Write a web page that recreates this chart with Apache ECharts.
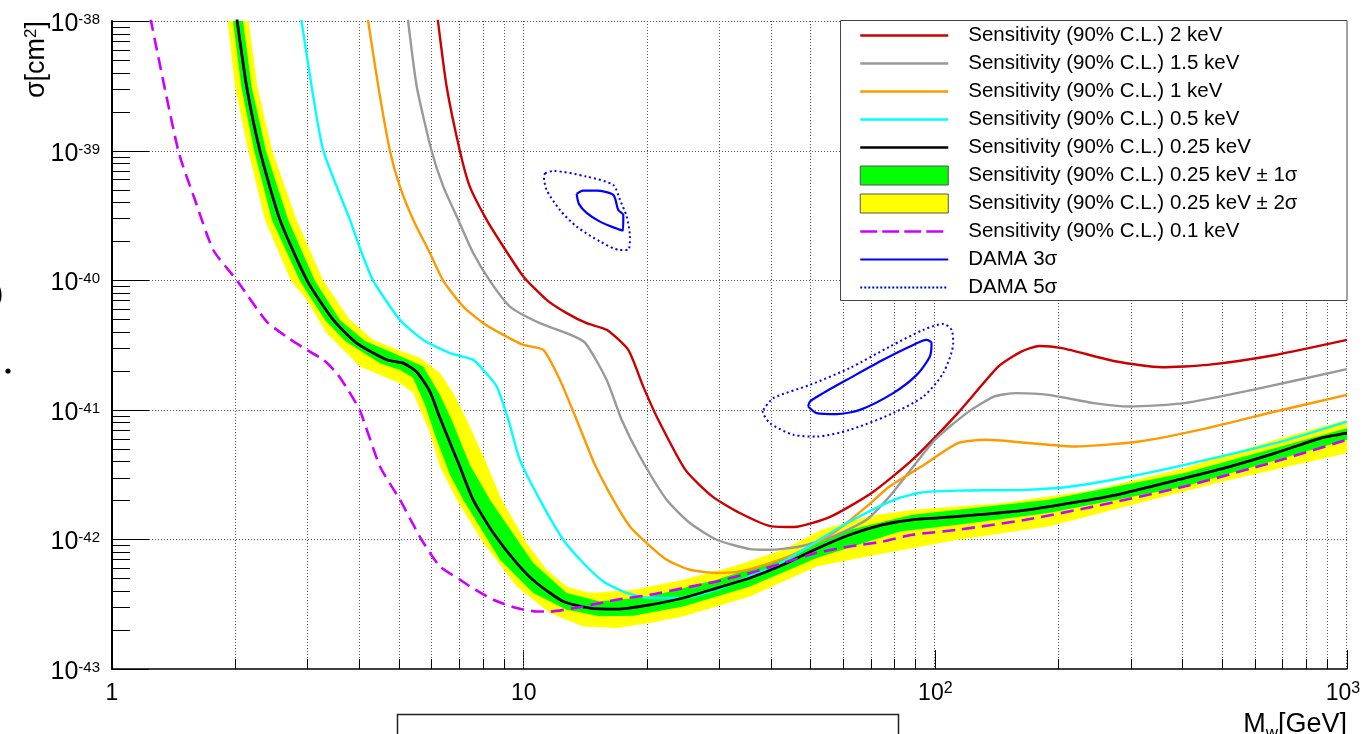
<!DOCTYPE html>
<html><head><meta charset="utf-8">
<script src="https://cdn.jsdelivr.net/npm/echarts@6/dist/echarts.min.js"></script>
<style>html,body{margin:0;padding:0;background:#fff;}#c{width:1368px;height:734px;}</style>
</head><body><div id="c"></div>
<script>
const FONT = '"Liberation Sans", Arial, Helvetica, sans-serif';

// ---- axis ticks ----
const xMajorTicks = [1, 10, 100, 1000];
const xMinorTicks = [2,3,4,5,6,7,8,9,20,30,40,50,60,70,80,90,200,300,400,500,600,700,800,900];
const yMajorTicks = [1e-43, 1e-42, 1e-41, 1e-40, 1e-39, 1e-38];
const yTickExponents = [-43, -42, -41, -40, -39, -38];
const yMinorTicks = [];
[-43,-42,-41,-40,-39].forEach(e => { for (let m = 2; m <= 9; m++) yMinorTicks.push(m * Math.pow(10, e)); });

// ---- series names ----
const N2 = 'Sensitivity (90% C.L.) 2 keV';
const N15 = 'Sensitivity (90% C.L.) 1.5 keV';
const N1 = 'Sensitivity (90% C.L.) 1 keV';
const N05 = 'Sensitivity (90% C.L.) 0.5 keV';
const N025 = 'Sensitivity (90% C.L.) 0.25 keV';
const N1S = 'Sensitivity (90% C.L.) 0.25 keV \u00b1 1\u03c3';
const N2S = 'Sensitivity (90% C.L.) 0.25 keV \u00b1 2\u03c3';
const N01 = 'Sensitivity (90% C.L.) 0.1 keV';
const ND3 = 'DAMA 3\u03c3';
const ND5 = 'DAMA 5\u03c3';

// ---- data: [mass GeV, sigma cm^2] ----
const sens2keV = [[6.18,1.05e-38],[6.50,3.11e-39],[7.00,9.94e-40],[7.40,5.27e-40],[8.13,2.92e-40],[8.92,1.82e-40],[9.98,1.07e-40],[11.37,7.05e-41],[12.72,5.57e-41],[14.22,4.66e-41],[15.91,4.14e-41],[17.95,2.90e-41],[19.52,1.51e-41],[21.23,8.37e-42],[24.71,3.44e-42],[28.76,2.14e-42],[33.5,1.60e-42],[40.0,1.26e-42],[45.4,1.245e-42],[55.7,1.50e-42],[70.0,2.28e-42],[87.9,4.11e-42],[113.4,9.43e-42],[142.4,2.16e-41],[161.7,2.81e-41],[179,3.11e-41],[203,2.99e-41],[275.5,2.36e-41],[355,2.13e-41],[458,2.22e-41],[670,2.65e-41],[1000,3.46e-41]];
const sens1p5keV = [[5.23,1.05e-38],[5.50,3.11e-39],[5.976,9.94e-40],[6.38,5.27e-40],[6.936,2.92e-40],[7.54,1.62e-40],[8.28,9.88e-41],[9.26,6.26e-41],[10.95,4.66e-41],[12.72,3.90e-41],[14.09,3.30e-41],[15.91,1.70e-41],[17.30,8.37e-42],[19.16,4.36e-42],[22.25,2.02e-42],[25.34,1.337e-42],[29.44,9.94e-43],[35.45,8.42e-43],[39.65,8.32e-43],[46.9,8.82e-43],[56.5,1.054e-42],[68.1,1.417e-42],[77.4,2.14e-42],[99.8,5.87e-42],[119.2,9.43e-42],[138.8,1.265e-41],[157.6,1.345e-41],[188.3,1.304e-41],[242.8,1.126e-41],[297,1.06e-41],[403,1.126e-41],[590,1.426e-41],[1000,2.06e-41]];
const sens1keV = [[4.18,1.05e-38],[4.436,3.11e-39],[4.734,9.94e-40],[5.006,5.27e-40],[5.393,2.92e-40],[5.92,1.62e-40],[6.38,9.88e-41],[7.13,6.26e-41],[7.98,4.66e-41],[9.09,3.67e-41],[9.98,3.17e-41],[11.16,2.90e-41],[12.25,1.70e-41],[13.45,8.37e-42],[14.90,3.76e-42],[16.51,2.02e-42],[18.12,1.258e-42],[19.90,9.37e-43],[22.25,6.97e-43],[25.34,5.83e-43],[29.44,5.50e-43],[33.5,5.66e-43],[39.65,6.57e-43],[46.9,8.07e-43],[56.5,1.119e-42],[68.1,1.795e-42],[77.4,2.56e-42],[92.5,3.65e-42],[113.4,5.53e-42],[132,5.87e-42],[188.3,5.37e-42],[219.3,5.21e-42],[312.8,5.69e-42],[457.9,7.22e-42],[670,9.70e-42],[1000,1.304e-41]];
const sens0p5keV = [[2.88,1.05e-38],[3.055,3.11e-39],[3.262,9.94e-40],[3.785,2.92e-40],[4.042,1.62e-40],[4.312,9.88e-41],[5.006,4.94e-41],[5.703,3.46e-41],[6.622,2.74e-41],[7.54,2.43e-41],[7.98,2.03e-41],[8.60,1.512e-41],[9.18,8.37e-42],[9.79,4.11e-42],[10.95,2.02e-42],[12.48,9.94e-43],[13.96,6.57e-43],[15.61,4.74e-43],[17.79,3.86e-43],[20.27,3.53e-43],[24.42,3.53e-43],[29.44,4.09e-43],[35.45,5.18e-43],[42.7,6.76e-43],[51.5,9.64e-43],[62.0,1.375e-42],[79.4,2.02e-42],[92.5,2.30e-42],[113.4,2.38e-42],[165.8,2.41e-42],[213.5,2.56e-42],[297,3.06e-42],[403,3.76e-42],[670,5.53e-42],[1000,8.12e-42]];
const sens0p25keV = [[2.01,1.05e-38],[2.124,3.11e-39],[2.288,9.94e-40],[2.559,2.92e-40],[2.981,9.88e-41],[3.448,4.94e-41],[3.930,3.27e-41],[4.65,2.43e-41],[5.10,2.29e-41],[5.50,1.96e-41],[5.92,1.38e-41],[6.26,8.67e-42],[6.73,4.91e-42],[7.00,3.63e-42],[7.54,2.02e-42],[8.44,1.12e-42],[9.62,6.57e-43],[10.75,4.61e-43],[12.48,3.32e-43],[14.49,2.95e-43],[16.82,2.90e-43],[20.27,3.13e-43],[24.42,3.53e-43],[29.44,4.21e-43],[35.45,5.04e-43],[42.7,6.37e-43],[51.5,8.47e-43],[62.0,1.086e-42],[74.7,1.30e-42],[87.7,1.417e-42],[113.4,1.503e-42],[155.6,1.643e-42],[200.6,1.85e-42],[275.5,2.21e-42],[403,2.97e-42],[519.5,3.65e-42],[670,4.63e-42],[864,6.05e-42],[1000,6.61e-42]];
const band1sUpper = [[2.077,1.05e-38],[2.184,3.11e-39],[2.366,9.94e-40],[2.68,2.92e-40],[3.112,9.88e-41],[3.58,4.94e-41],[4.117,3.40e-41],[4.824,2.74e-41],[5.703,2.16e-41],[6.26,1.304e-41],[6.684,8.37e-42],[7.40,3.76e-42],[8.28,2.02e-42],[10.55,6.57e-43],[12.72,3.86e-43],[15.32,3.32e-43],[20.27,3.63e-43],[29.44,4.89e-43],[42.7,7.18e-43],[62.0,1.187e-42],[87.9,1.549e-42],[188.3,2.02e-42],[403,3.25e-42],[1000,7.22e-42]];
const band1sLower = [[1.964,1.05e-38],[2.061,3.11e-39],[2.216,9.94e-40],[2.447,2.92e-40],[2.862,9.88e-41],[3.292,4.94e-41],[3.681,3.40e-41],[4.477,2.29e-41],[5.006,2.03e-41],[5.384,1.764e-41],[5.758,1.093e-41],[6.088,6.41e-42],[6.622,3.15e-42],[7.13,2.02e-42],[8.76,6.97e-43],[10.55,3.86e-43],[12.72,2.87e-43],[15.32,2.55e-43],[18.46,2.58e-43],[24.42,3.04e-43],[35.45,4.34e-43],[51.5,7.18e-43],[82.0,1.151e-42],[113.4,1.30e-42],[188.3,1.596e-42],[403,2.56e-42],[1000,5.87e-42]];
const band2sUpper = [[2.143,1.05e-38],[2.254,3.11e-39],[2.452,9.94e-40],[2.809,2.92e-40],[3.262,9.88e-41],[3.785,4.94e-41],[4.312,3.46e-41],[5.006,2.85e-41],[5.60,2.52e-41],[6.26,1.92e-41],[6.745,1.345e-41],[7.27,8.37e-42],[8.05,4.11e-42],[8.84,2.02e-42],[10.17,9.37e-43],[11.37,5.83e-43],[12.72,4.34e-43],[14.49,3.86e-43],[18.46,4.09e-43],[24.42,4.89e-43],[32.29,6.18e-43],[42.7,8.32e-43],[52.9,1.187e-42],[68.2,1.503e-42],[87.9,1.693e-42],[146,1.907e-42],[242.8,2.41e-42],[403,3.55e-42],[670,5.87e-42],[1000,8.37e-42]];
const band2sLower = [[1.906,1.05e-38],[1.990,3.11e-39],[2.143,9.94e-40],[2.353,2.92e-40],[2.722,9.88e-41],[2.971,7.05e-41],[3.322,3.90e-41],[4.004,2.16e-41],[5.006,1.606e-41],[5.393,1.345e-41],[5.92,6.61e-42],[6.26,3.65e-42],[6.875,2.02e-42],[7.98,9.37e-43],[9.62,4.34e-43],[11.58,2.70e-43],[13.96,2.13e-43],[16.82,2.07e-43],[20.27,2.26e-43],[24.42,2.55e-43],[29.44,3.04e-43],[35.45,3.63e-43],[42.7,4.74e-43],[51.5,6.18e-43],[68.2,7.38e-43],[113.4,9.94e-43],[188.3,1.258e-42],[312.8,1.907e-42],[519.5,2.88e-42],[1000,4.63e-42]];
const sens0p1keV = [[1.24,1.05e-38],[1.449,9.94e-40],[1.591,4.16e-40],[1.762,1.71e-40],[2.015,9.88e-41],[2.375,4.80e-41],[2.677,3.59e-41],[2.971,2.90e-41],[3.262,2.43e-41],[3.514,1.92e-41],[3.743,1.426e-41],[4.004,9.82e-42],[4.477,3.65e-42],[5.006,2.02e-42],[5.65,9.94e-43],[6.26,6.18e-43],[7.00,4.89e-43],[7.40,4.34e-43],[8.44,3.42e-43],[9.62,2.95e-43],[10.75,2.78e-43],[11.58,2.78e-43],[13.96,3.04e-43],[16.82,3.42e-43],[20.27,3.74e-43],[24.42,4.21e-43],[29.44,4.74e-43],[35.45,5.50e-43],[42.7,6.57e-43],[51.5,7.89e-43],[62.0,8.82e-43],[74.7,9.64e-43],[87.9,1.086e-42],[113.4,1.187e-42],[165.8,1.417e-42],[242.8,1.795e-42],[403,2.56e-42],[670,3.99e-42],[1000,5.87e-42]];
const dama3Low = [[13.45,4.63e-40],[13.93,4.91e-40],[15.04,4.91e-40],[16.51,4.55e-40],[16.97,3.48e-40],[17.46,3.19e-40],[17.43,2.42e-40],[16.39,2.58e-40],[15.32,2.83e-40],[14.22,3.31e-40],[13.62,3.88e-40],[13.45,4.63e-40]];
const dama5Low = [[11.27,6.69e-40],[11.80,6.97e-40],[14.22,6.30e-40],[16.51,5.43e-40],[17.14,4.16e-40],[17.79,3.10e-40],[18.12,2.17e-40],[17.95,1.71e-40],[17.14,1.71e-40],[15.32,1.99e-40],[13.45,2.59e-40],[12.25,3.48e-40],[11.37,4.97e-40],[11.20,6.30e-40],[11.27,6.69e-40]];
const dama3High = [[49.1,1.06e-41],[51.5,9.43e-42],[57.6,9.26e-42],[65.6,9.99e-42],[79.0,1.345e-41],[90.1,1.86e-41],[97.0,2.58e-41],[97.9,3.27e-41],[95.2,3.46e-41],[86.8,3.08e-41],[74.7,2.43e-41],[62.0,1.755e-41],[53.4,1.345e-41],[49.6,1.158e-41],[49.1,1.06e-41]];
const dama5High = [[38.2,9.99e-42],[40.4,1.23e-41],[49.6,1.558e-41],[62.0,2.10e-41],[77.6,3.08e-41],[93.5,4.14e-41],[104.5,4.60e-41],[109.5,4.14e-41],[110.5,3.27e-41],[104.5,1.92e-41],[93.5,1.265e-41],[79.0,9.43e-42],[62.0,7.01e-42],[51.5,6.22e-42],[45.2,6.41e-42],[39.65,7.89e-42],[38.1,9.70e-42],[38.2,9.99e-42]];

const chart = echarts.init(document.getElementById('c'), null, {renderer: 'canvas'});

function lineSeries(name, data, color, width, dash, smooth) {
  return {
    type: 'line', name, data, symbol: 'none', showSymbol: false, smooth: smooth,
    clip: true, z: 2, silent: true,
    lineStyle: {color, width, type: dash || 'solid', cap: 'butt'},
    itemStyle: {color}
  };
}
function bandSeries(name, upper, lower, color) {
  const mid = upper[Math.floor(upper.length / 2)];
  return {
    type: 'custom', name, coordinateSystem: 'cartesian2d', clip: true, z: 2, silent: true,
    itemStyle: {color},
    data: [[mid[0], mid[1]]],
    renderItem(params, api) {
      const pts = upper.map(p => api.coord(p)).concat(lower.slice().reverse().map(p => api.coord(p)));
      return {type: 'polygon', shape: {points: pts}, style: {fill: color, stroke: null, lineWidth: 0}};
    }
  };
}

const yLabelRich = {
  b: {fontSize: 25, lineHeight: 24, fontFamily: FONT, fill: '#000', verticalAlign: 'bottom'},
  s: {fontSize: 15, lineHeight: 11, fontFamily: FONT, fill: '#000', verticalAlign: 'top'}
};

const gridSeries = {
  type: 'custom', name: '__grid', coordinateSystem: 'cartesian2d', z: 1, silent: true, clip: false,
  data: [[10, 1e-40]],
  renderItem(params, api) {
    const cs = params.coordSys;
    const x0 = cs.x, y0 = cs.y, w = cs.width, h = cs.height;
    const ch = [];
    const dot = {stroke: '#555', lineWidth: 1, lineDash: [1, 2]};
    const solid = {stroke: '#000', lineWidth: 1};
    xMinorTicks.concat([10, 100, 1000]).forEach(v => {
      const px = Math.round(api.coord([v, 1e-43])[0]) - 0.5;
      ch.push({type: 'line', shape: {x1: px, y1: y0, x2: px, y2: y0 + h}, style: dot});
    });
    yMajorTicks.slice(1).forEach(v => {
      const py = Math.round(api.coord([1, v])[1]) + 0.5;
      ch.push({type: 'line', shape: {x1: x0 + 37, y1: py, x2: x0 + w, y2: py}, style: dot});
    });
    xMinorTicks.forEach(v => {
      const px = Math.round(api.coord([v, 1e-43])[0]) - 0.5;
      ch.push({type: 'line', shape: {x1: px, y1: y0 + h, x2: px, y2: y0 + h - 10}, style: solid});
    });
    yMinorTicks.forEach(v => {
      const py = Math.round(api.coord([1, v])[1]) + 0.5;
      ch.push({type: 'line', shape: {x1: x0, y1: py, x2: x0 + 18, y2: py}, style: solid});
    });
    yMajorTicks.forEach((v, i) => {
      const py = Math.round(api.coord([1, v])[1]) + 0.5;
      ch.push({type: 'line', shape: {x1: x0, y1: py, x2: x0 + 37, y2: py}, style: solid});
      ch.push({type: 'text', x: x0 - 12, y: py + 3,
        style: {text: '{b|10}{s|' + yTickExponents[i] + '}', rich: yLabelRich, align: 'right', verticalAlign: 'middle', fill: '#000', fontFamily: FONT}});
    });
    return {type: 'group', children: ch};
  }
};

const option = {
  animation: false,
  backgroundColor: '#ffffff',
  textStyle: {fontFamily: FONT},
  grid: {left: 112, right: 21, top: 21, bottom: 65, containLabel: false, outerBoundsMode: 'none'},
  xAxis: {
    type: 'log', logBase: 10, min: 1, max: 1000, splitNumber: 3,
    axisLine: {show: true, onZero: false, lineStyle: {color: '#000', width: 1.5}},
    axisTick: {show: true, inside: true, length: 19, lineStyle: {color: '#000', width: 1}},
    minorTick: {show: false}, splitLine: {show: false}, minorSplitLine: {show: false},
    axisLabel: {
      margin: 12, color: '#000',
      formatter: v => {
        const e = Math.round(Math.log10(v));
        if (e === 0) return '{b|1}';
        if (e === 1) return '{b|10}';
        if (e === 3) return '{b|10}{s|3}{p|}';
        return '{b|10}{s|' + e + '}';
      },
      rich: {
        b: {fontSize: 23, lineHeight: 24, fontFamily: FONT, color: '#000', verticalAlign: 'bottom'},
        s: {fontSize: 16, lineHeight: 11, fontFamily: FONT, color: '#000', verticalAlign: 'top'},
        p: {width: 8}
      }
    },
    name: '{m|M}{w|w}{g|[GeV]}', nameLocation: 'end', nameGap: 0, nameMoveOverlap: false,
    nameTextStyle: {
      align: 'right', verticalAlign: 'top', padding: [42, 0, 0, 0],
      rich: {
        m: {fontSize: 27, fontFamily: FONT, color: '#000', verticalAlign: 'bottom', lineHeight: 27},
        w: {fontSize: 17, fontFamily: FONT, color: '#000', verticalAlign: 'bottom', lineHeight: 17, padding: [0, 0, -4, 0]},
        g: {fontSize: 27, fontFamily: FONT, color: '#000', verticalAlign: 'bottom', lineHeight: 27}
      }
    }
  },
  yAxis: {
    type: 'log', logBase: 10, min: 1e-43, max: 1e-38, splitNumber: 5,
    axisLine: {show: true, onZero: false, lineStyle: {color: '#000', width: 2}},
    axisTick: {show: false},
    minorTick: {show: false}, splitLine: {show: false}, minorSplitLine: {show: false},
    axisLabel: {show: false},
    name: '{t|\u03c3[cm}{s|2}{t|]}', nameLocation: 'end', nameGap: 0, nameRotate: 90, nameMoveOverlap: false,
    nameTextStyle: {
      align: 'right', verticalAlign: 'bottom', padding: [0, 0, 62, 0],
      rich: {
        t: {fontSize: 27, fontFamily: FONT, color: '#000', verticalAlign: 'bottom', lineHeight: 27},
        s: {fontSize: 17, fontFamily: FONT, color: '#000', verticalAlign: 'top', lineHeight: 17}
      }
    }
  },
  legend: {
    orient: 'vertical', left: 840, top: 22, padding: [3, 10, 6, 19],
    itemWidth: 88, itemHeight: 19, itemGap: 7, selectedMode: false,
    textStyle: {fontFamily: FONT, fontSize: 20.5, color: '#000', lineHeight: 19, padding: [0, 0, 0, 15]},
    itemStyle: {opacity: 0},
    lineStyle: {width: 2.5},
    data: [
      {name: N2}, {name: N15}, {name: N1}, {name: N05}, {name: N025},
      {name: N1S, icon: 'rect', itemStyle: {color: '#00ff00', borderColor: '#555', borderWidth: 1, opacity: 1}},
      {name: N2S, icon: 'rect', itemStyle: {color: '#ffff00', borderColor: '#555', borderWidth: 1, opacity: 1}},
      {name: N01, lineStyle: {width: 2.5, type: [17, 5]}},
      {name: ND3, lineStyle: {width: 2}},
      {name: ND5, lineStyle: {width: 2, type: [2, 2]}}
    ]
  },
  graphic: [
    {type: 'rect', z: 3, silent: true, shape: {x: 840.5, y: 20.5, width: 506.5, height: 280}, style: {fill: '#fff', stroke: '#444', lineWidth: 1}},
    {type: 'rect', z: 3, silent: true, shape: {x: 397.5, y: 714.5, width: 501, height: 40}, style: {fill: 'none', stroke: '#222', lineWidth: 1.5}},
    {type: 'text', z: 3, silent: true, x: -6, y: 294, style: {text: ')', fontSize: 28, fontFamily: FONT, fill: '#000', align: 'left', verticalAlign: 'middle'}},
    {type: 'circle', z: 3, silent: true, shape: {cx: 8, cy: 371, r: 2.6}, style: {fill: '#000'}}
  ],
  series: [
    gridSeries,
    bandSeries(N2S, band2sUpper, band2sLower, '#ffff00'),
    bandSeries(N1S, band1sUpper, band1sLower, '#00ff00'),
    lineSeries(N2, sens2keV, '#cc0000', 2.4, null, 0.2),
    lineSeries(N15, sens1p5keV, '#999999', 2.4, null, 0.2),
    lineSeries(N1, sens1keV, '#ff9900', 2.4, null, 0.2),
    lineSeries(N05, sens0p5keV, '#00ffff', 2.4, null, 0.2),
    lineSeries(N025, sens0p25keV, '#000000', 2.8, null, 0.2),
    lineSeries(N01, sens0p1keV, '#cc00ff', 2.6, [13, 7], 0.2),
    lineSeries(ND3, dama3Low, '#0000ff', 2.2, null, 0.25),
    lineSeries(ND3, dama3High, '#0000ff', 2.2, null, 0.25),
    lineSeries(ND5, dama5Low, '#0000ff', 2, [2, 3], 0.25),
    lineSeries(ND5, dama5High, '#0000ff', 2, [2, 3], 0.25)
  ]
};
chart.setOption(option);
</script></body></html>
